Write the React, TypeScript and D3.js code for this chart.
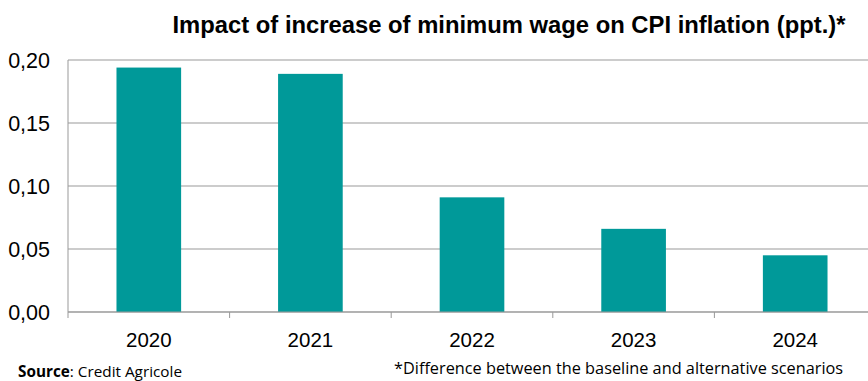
import React from "react";
import * as d3 from "d3";

const years = ["2020", "2021", "2022", "2023", "2024"];
const values = [0.194, 0.189, 0.091, 0.066, 0.045];
const yTicks = [0, 0.05, 0.1, 0.15, 0.2];

const W = 868, H = 381;
const left = 68, right = 876, top = 60, bottom = 312;

export default function App() {
  const x = d3.scaleBand<string>().domain(years).range([left, right]).paddingInner(0.6).paddingOuter(0.3);
  const xb = d3.scaleBand<string>().domain(years).range([left, right]);
  const y = d3.scaleLinear().domain([0, 0.2]).range([bottom, top]);
  const fmt = (v: number) => v.toFixed(2).replace(".", ",");
  return (
    <svg width={W} height={H} style={{ position: "absolute", left: 0, top: 0, background: "#fff" }}>
      <text x={509} y={33} textAnchor="middle" fontFamily="Liberation Sans, Arial, sans-serif" fontWeight="bold" fontSize={23.8}>
        Impact of increase of minimum wage on CPI inflation (ppt.)*
      </text>
      {yTicks.map((t) => (
        <g key={t}>
          <line x1={left} x2={W} y1={y(t)} y2={y(t)} stroke="#999" strokeWidth={1} />
          <text x={50} y={y(t) + 8} textAnchor="end" fontFamily="Liberation Sans, Arial, sans-serif" fontSize={21.5}>
            {fmt(t)}
          </text>
        </g>
      ))}
      <line x1={left} x2={left} y1={top} y2={bottom} stroke="#999" />
      {years.map((yr, i) => (
        <rect key={yr} x={x(yr)} y={y(values[i])} width={x.bandwidth()} height={bottom - y(values[i])} fill="#009999" />
      ))}
      {years.map((yr) => (
        <line key={"t" + yr} x1={xb(yr)} x2={xb(yr)} y1={bottom} y2={bottom + 6} stroke="#999" />
      ))}
      <line x1={left} x2={W} y1={bottom} y2={bottom} stroke="#999" />
      {years.map((yr) => (
        <text key={"l" + yr} x={(xb(yr) as number) + xb.bandwidth() / 2} y={346.5} textAnchor="middle" fontFamily="Liberation Sans, Arial, sans-serif" fontSize={20.5}>
          {yr}
        </text>
      ))}
      <text x={18} y={376.5} fontFamily="Open Sans, sans-serif" fontSize={15.3}>
        <tspan fontWeight="bold">Source</tspan>: Credit Agricole
      </text>
      <text x={394} y={373.5} fontFamily="Open Sans, sans-serif" fontSize={16.3}>
        *Difference between the baseline and alternative scenarios
      </text>
    </svg>
  );
}
